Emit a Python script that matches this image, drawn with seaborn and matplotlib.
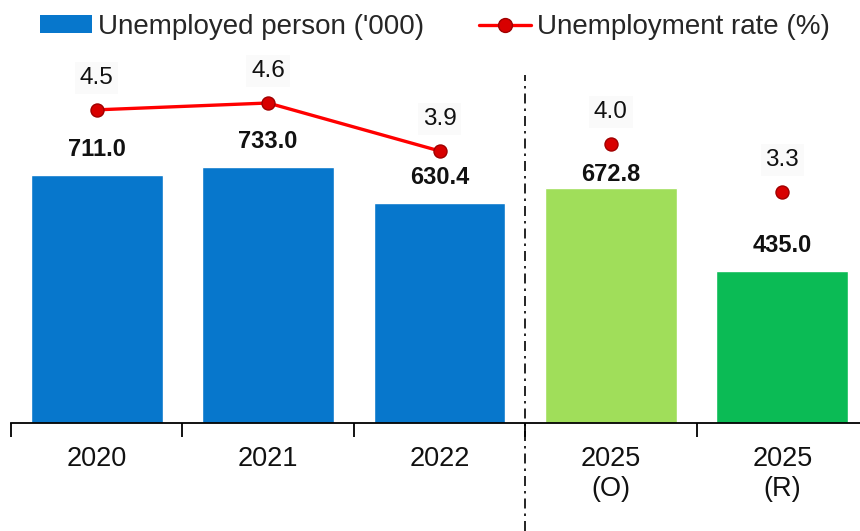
import numpy as np
import matplotlib
matplotlib.use("Agg")
import matplotlib.pyplot as plt
from matplotlib.patches import Patch
from matplotlib.lines import Line2D
import seaborn as sns

# Data
categories = ["2020", "2021", "2022", "2025\n(O)", "2025\n(R)"]
unemployed = [711.0, 733.0, 630.4, 672.8, 435.0]
rate = [4.5, 4.6, 3.9, 4.0, 3.3]
n_actual = 3  # years with observed figures joined by the line

bar_colors = ["#0777CC", "#0777CC", "#0777CC", "#A0DE5A", "#0BBB55"]
line_color = "#FF0000"
marker_face = "#D80000"
marker_edge = "#A00000"
text_color = "#111111"

sns.set_theme(style="white")
plt.rcParams["font.family"] = ["Liberation Sans", "DejaVu Sans"]

fig = plt.figure(figsize=(8.6, 5.31), dpi=100)
ax = fig.add_axes([11 / 860, 1 - 423 / 531, 857 / 860, 383 / 531])

sns.barplot(x=categories, y=unemployed, hue=categories, palette=bar_colors,
            width=0.77, saturation=1, legend=False, ax=ax)
ax.set_ylim(0, 1096)
ax.set_xlim(-0.5, len(categories) - 0.5)
ax.set_ylabel("")
ax.set_yticks([])
for s in ["left", "right", "top"]:
    ax.spines[s].set_visible(False)
ax.spines["bottom"].set_color("black")
ax.spines["bottom"].set_linewidth(1.3)

# category labels at centres, boundary ticks between categories
ax.set_xticks(np.arange(len(categories)))
ax.set_xticklabels(categories, fontsize=19.5, color=text_color, linespacing=1.22)
ax.tick_params(axis="x", which="major", length=0, pad=16.5)
ax.set_xticks(np.arange(-0.5, len(categories)), minor=True)
ax.tick_params(axis="x", which="minor", length=10, width=1.3, color="black",
               direction="out", bottom=True)

# value labels above the bars; the 2025 (O) label sits lower to clear its marker
for i, v in enumerate(unemployed):
    dy = 13 if i == 3 else 25
    ax.annotate(f"{v:.1f}", (i, v), xytext=(0, dy), textcoords="offset pixels",
                ha="center", va="center", fontsize=17, fontweight="bold",
                color=text_color)

# unemployment rate on a secondary axis
ax2 = ax.twinx()
ax2.set_ylim(-0.073, 5.52)
ax2.set_yticks([])
for s in ax2.spines.values():
    s.set_visible(False)

xpos = np.arange(len(categories))
sns.lineplot(x=xpos[:n_actual], y=rate[:n_actual], color=line_color,
             linewidth=2.4, ax=ax2, legend=False)
ax2.scatter(xpos, rate, s=88, color=marker_face, edgecolor=marker_edge,
            linewidth=1, zorder=5)
for i, r in enumerate(rate):
    ax2.annotate(f"{r:.1f}", (i, r), xytext=(0, 32), textcoords="offset pixels",
                 ha="center", va="center", fontsize=17.5, color=text_color,
                 bbox=dict(boxstyle="square,pad=0.2", fc="#FAFAFA", ec="none"))

# divider between actual years and the 2025 figures
ax2.axvline(2.5, ymin=-0.282, ymax=0.909, color="black", linewidth=1.2,
            linestyle=(0, (6, 3, 1.5, 3)), clip_on=False)

handles = [
    Patch(facecolor="#0777CC", edgecolor="none"),
    Line2D([0], [0], color=line_color, linewidth=2.4, marker="o",
           markersize=10, markerfacecolor=marker_face, markeredgecolor=marker_edge),
]
fig.legend(handles, ["Unemployed person ('000)", "Unemployment rate (%)"],
           loc="upper left", bbox_to_anchor=(23 / 860, 1.005), ncol=2,
           frameon=False, fontsize=20, handlelength=1.87, handleheight=0.6,
           handletextpad=0.22, columnspacing=1.98, borderaxespad=0.2)

fig.savefig("out.png", dpi=100)
